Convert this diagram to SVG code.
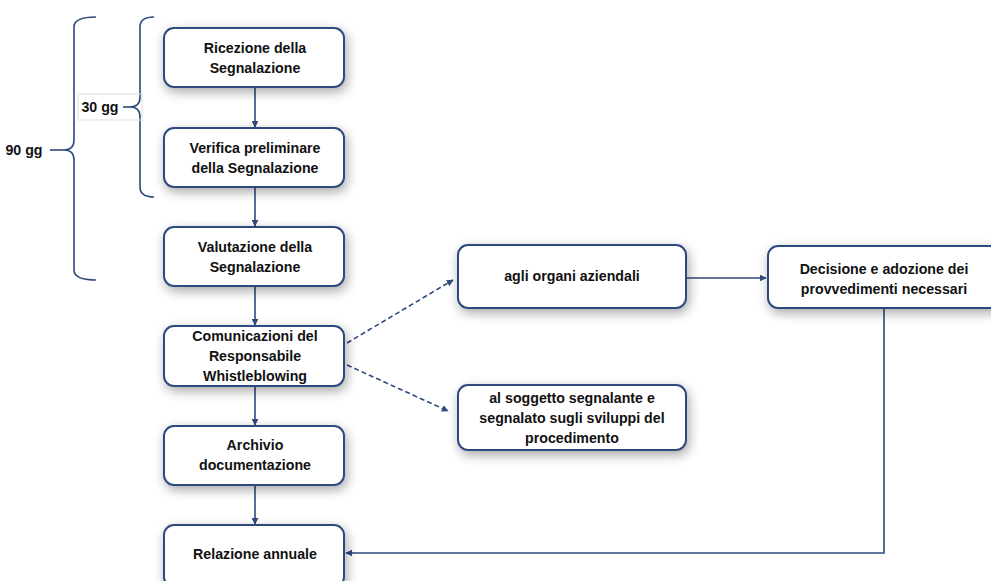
<svg xmlns="http://www.w3.org/2000/svg" width="991" height="581" viewBox="0 0 991 581">
<defs>
<filter id="sh" x="-20%" y="-30%" width="140%" height="160%">
<feGaussianBlur in="SourceAlpha" stdDeviation="6"/>
<feOffset dx="2" dy="4"/>
<feComponentTransfer><feFuncA type="linear" slope="0.35"/></feComponentTransfer>
<feMerge><feMergeNode/><feMergeNode in="SourceGraphic"/></feMerge>
</filter>
<marker id="ah" viewBox="0 0 10 10" refX="9" refY="5" markerWidth="7" markerHeight="7" markerUnits="userSpaceOnUse" orient="auto">
<path d="M0,0 L10,5 L0,10 z" fill="#2E4A7D"/>
</marker>
</defs>
<style>
.box{fill:#fff;stroke:#2E4A7D;stroke-width:2;filter:url(#sh)}
.t{font-family:"Liberation Sans",Arial,sans-serif;font-weight:bold;font-size:14.2px;fill:#111;text-anchor:middle}
.c{fill:none;stroke:#2E4A7D;stroke-width:1.6}
.d{stroke-dasharray:5,3}
.br{fill:none;stroke:#2E4A7D;stroke-width:1.6}
</style>
<rect width="991" height="581" fill="#fff"/>
<g id="brackets">
<path class="br" d="M96,17 Q74,17 74,27 L74,140 Q74,150 64,150 Q74,150 74,160 L74,270 Q74,280 96,280"/>
<line class="br" x1="50" y1="150" x2="64" y2="150"/>
<text class="t" x="24" y="155">90 gg</text>
<path class="br" d="M154,17 Q140,17 140,27 L140,97 Q140,107 130,107 Q140,107 140,117 L140,187 Q140,197 154,197"/>
<rect x="78" y="94" width="64" height="26" fill="none" stroke="#ddd" stroke-width="1"/>
<line class="br" x1="123" y1="107" x2="130" y2="107"/>
<text class="t" x="100" y="112">30 gg</text>
</g>
<g id="connectors">
<line class="c" x1="255" y1="87" x2="255" y2="127" marker-end="url(#ah)"/>
<line class="c" x1="255" y1="187" x2="255" y2="226" marker-end="url(#ah)"/>
<line class="c" x1="255" y1="286" x2="255" y2="325" marker-end="url(#ah)"/>
<line class="c" x1="255" y1="386" x2="255" y2="425" marker-end="url(#ah)"/>
<line class="c" x1="255" y1="485" x2="255" y2="524" marker-end="url(#ah)"/>
<line class="c d" x1="347" y1="343" x2="453" y2="280" marker-end="url(#ah)"/>
<line class="c d" x1="347" y1="365" x2="448" y2="411" marker-end="url(#ah)"/>
<line class="c" x1="686" y1="278" x2="766" y2="278" marker-end="url(#ah)"/>
<polyline class="c" points="884,309 884,553 346,553" marker-end="url(#ah)"/>
</g>
<g id="n1"><rect class="box" x="164" y="28" width="180" height="59" rx="10"/>
<text class="t" x="255" y="53">Ricezione della</text><text class="t" x="255" y="73">Segnalazione</text></g>
<g id="n2"><rect class="box" x="164" y="128" width="180" height="59" rx="10"/>
<text class="t" x="255" y="153">Verifica preliminare</text><text class="t" x="255" y="173">della Segnalazione</text></g>
<g id="n3"><rect class="box" x="164" y="227" width="180" height="59" rx="10"/>
<text class="t" x="255" y="252">Valutazione della</text><text class="t" x="255" y="272">Segnalazione</text></g>
<g id="n4"><rect class="box" x="164" y="326" width="180" height="60" rx="10"/>
<text class="t" x="255" y="341">Comunicazioni del</text><text class="t" x="255" y="361">Responsabile</text><text class="t" x="255" y="381">Whistleblowing</text></g>
<g id="n5"><rect class="box" x="164" y="426" width="180" height="59" rx="10"/>
<text class="t" x="255" y="450">Archivio</text><text class="t" x="255" y="470">documentazione</text></g>
<g id="n6"><rect class="box" x="164" y="525" width="180" height="62" rx="10"/>
<text class="t" x="255" y="559">Relazione annuale</text></g>
<g id="n7"><rect class="box" x="458" y="245" width="228" height="63" rx="10"/>
<text class="t" x="572" y="281">agli organi aziendali</text></g>
<g id="n8"><rect class="box" x="768" y="246" width="232" height="62" rx="10"/>
<text class="t" x="884" y="274">Decisione e adozione dei</text><text class="t" x="884" y="294">provvedimenti necessari</text></g>
<g id="n9"><rect class="box" x="458" y="385" width="228" height="65" rx="10"/>
<text class="t" x="572" y="403">al soggetto segnalante e</text><text class="t" x="572" y="423">segnalato sugli sviluppi del</text><text class="t" x="572" y="443">procedimento</text></g>
</svg>
